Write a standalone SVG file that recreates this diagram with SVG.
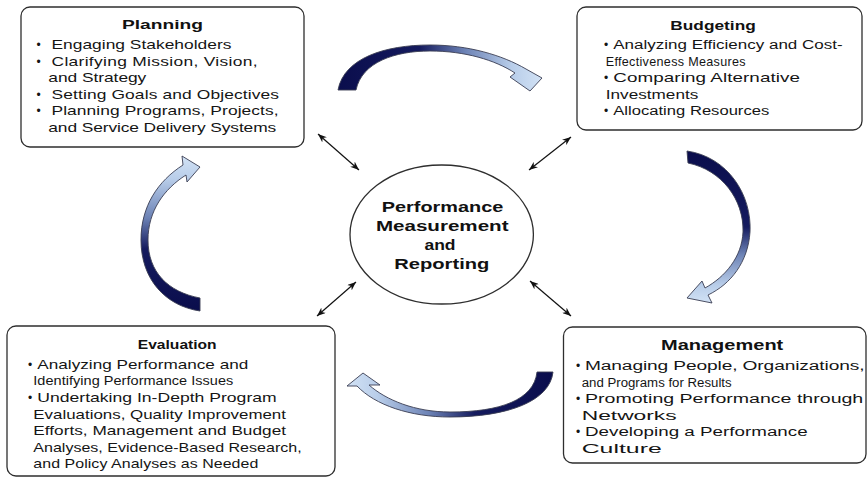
<svg xmlns="http://www.w3.org/2000/svg" width="868" height="477" viewBox="0 0 868 477">
<style>
.box{fill:#fff;stroke:#2e2e2e;stroke-width:1.3}
.t{font-family:"Liberation Sans",Arial,sans-serif;font-size:12px;fill:#151515}
.tm{font-family:"Liberation Sans",Arial,sans-serif;font-size:13.5px;fill:#151515}
.b{font-family:"Liberation Sans",Arial,sans-serif;font-size:12px;fill:#151515}
.h{font-family:"Liberation Sans",Arial,sans-serif;font-size:13px;font-weight:bold;fill:#111}
.hm{font-family:"Liberation Sans",Arial,sans-serif;font-size:14px;font-weight:bold;fill:#111}
.c{font-family:"Liberation Sans",Arial,sans-serif;font-size:14px;font-weight:bold;fill:#111;text-anchor:middle}
.link{stroke:#111;stroke-width:1.2;fill:none}
.cyc{stroke:#3a3d52;stroke-width:0.9}
</style>
<defs>
<marker id="ah" viewBox="0 0 10 8" refX="10" refY="4" markerWidth="9" markerHeight="7" markerUnits="userSpaceOnUse" orient="auto-start-reverse">
<path d="M0,0 L10,4 L0,8 L3,4 z" fill="#111"/>
</marker>
<linearGradient id="gTop" gradientUnits="userSpaceOnUse" x1="338" y1="0" x2="542" y2="0">
<stop offset="0" stop-color="#0a0d4c"/><stop offset="0.4" stop-color="#151b5e"/><stop offset="0.62" stop-color="#6c82b5"/><stop offset="0.85" stop-color="#b8cde9"/><stop offset="1" stop-color="#d2e2f5"/>
</linearGradient>
<linearGradient id="gRight" gradientUnits="userSpaceOnUse" x1="0" y1="151" x2="0" y2="303">
<stop offset="0" stop-color="#0a0d4c"/><stop offset="0.5" stop-color="#151b5e"/><stop offset="0.68" stop-color="#6c82b5"/><stop offset="0.88" stop-color="#b8cde9"/><stop offset="1" stop-color="#d2e2f5"/>
</linearGradient>
<linearGradient id="gLeft" gradientUnits="userSpaceOnUse" x1="0" y1="311" x2="0" y2="156">
<stop offset="0" stop-color="#0a0d4c"/><stop offset="0.4" stop-color="#151b5e"/><stop offset="0.6" stop-color="#6c82b5"/><stop offset="0.85" stop-color="#b8cde9"/><stop offset="1" stop-color="#d2e2f5"/>
</linearGradient>
<linearGradient id="gBottom" gradientUnits="userSpaceOnUse" x1="553" y1="0" x2="347" y2="0">
<stop offset="0" stop-color="#0a0d4c"/><stop offset="0.38" stop-color="#151b5e"/><stop offset="0.6" stop-color="#6c82b5"/><stop offset="0.85" stop-color="#b8cde9"/><stop offset="1" stop-color="#d2e2f5"/>
</linearGradient>
</defs>
<rect width="868" height="477" fill="#fff"/>

<g id="connectors">
<line class="link" x1="318" y1="134" x2="359" y2="170" marker-start="url(#ah)" marker-end="url(#ah)"/>
<line class="link" x1="571" y1="137" x2="529" y2="170" marker-start="url(#ah)" marker-end="url(#ah)"/>
<line class="link" x1="356" y1="282" x2="317" y2="316" marker-start="url(#ah)" marker-end="url(#ah)"/>
<line class="link" x1="530" y1="281" x2="571" y2="316" marker-start="url(#ah)" marker-end="url(#ah)"/>
<g id="cycle-arrows">
<path class="cyc" fill="url(#gTop)" d="M338,90 C344,58 385,45 430,45 C468,45 502,55 526,69 L542,78 L530,91 L510,77 L515,73 C495,60 465,51 430,51 C395,51 362,62 356,90 Z"/>
<path class="cyc" fill="url(#gRight)" d="M687,151 C728,157 752,195 750,232 C748,262 731,284 708,295 L712,303 L687,298 L702,281 L705,288 C725,277 742,257 743,232 C744,200 722,170 688,163 Z"/>
<path class="cyc" fill="url(#gLeft)" d="M200,311 C166,306 141,280 141,240 C141,206 158,181 183,165 L182,156 L200,167 L187,182 L186,175 C164,189 148,211 148,240 C148,272 168,292 200,298 Z"/>
<path class="cyc" fill="url(#gBottom)" d="M537,372 L553,372 C550,401 508,417 450,417 C410,417 375,405 357,386 L347,386 L363,373 L380,385 L369,385 C386,400 415,412 450,412 C500,412 534,400 537,372 Z"/>
</g>
</g>

<g id="planning">
<rect class="box" x="21" y="7" width="283" height="140" rx="9"/>
<text class="h" transform="matrix(1.475 0 0 1 122 29)" textLength="54.9">Planning</text>
<text class="b" x="36.5" y="49">•</text>
<text class="t" transform="matrix(1.45 0 0 1 51.5 49)" textLength="124.1">Engaging Stakeholders</text>
<text class="b" x="36.5" y="65.5">•</text>
<text class="t" transform="matrix(1.45 0 0 1 51.5 65.5)" textLength="142.1">Clarifying Mission, Vision,</text>
<text class="t" transform="matrix(1.45 0 0 1 48.3 82)" textLength="67.6">and Strategy</text>
<text class="b" x="36.5" y="98.5">•</text>
<text class="t" transform="matrix(1.45 0 0 1 51.5 98.5)" textLength="156.9">Setting Goals and Objectives</text>
<text class="b" x="36.5" y="115">•</text>
<text class="t" transform="matrix(1.45 0 0 1 51.5 115)" textLength="156.6">Planning Programs, Projects,</text>
<text class="t" transform="matrix(1.45 0 0 1 48.3 131.5)" textLength="157.2">and Service Delivery Systems</text>
</g>

<g id="budgeting">
<rect class="box" x="577" y="7" width="285" height="123" rx="9"/>
<text class="h" transform="matrix(1.33 0 0 1 670.3 29.5)" textLength="64.3">Budgeting</text>
<text class="b" x="604" y="49">•</text>
<text class="t" transform="matrix(1.415 0 0 1 613.3 49)" textLength="162.1">Analyzing Efficiency and Cost-</text>
<text class="t" transform="matrix(1.05 0 0 1 605.7 65.5)" textLength="133.3">Effectiveness Measures</text>
<text class="b" x="604" y="82">•</text>
<text class="t" transform="matrix(1.57 0 0 1 613.3 82)" textLength="118.9">Comparing Alternative</text>
<text class="t" transform="matrix(1.43 0 0 1 605.7 98.5)" textLength="64.8">Investments</text>
<text class="b" x="604" y="115">•</text>
<text class="t" transform="matrix(1.38 0 0 1 613.3 115)" textLength="113">Allocating Resources</text>
</g>

<g id="evaluation">
<rect class="box" x="7" y="326" width="328" height="150" rx="9"/>
<text class="h" transform="matrix(1.2 0 0 1 137.8 349)" textLength="65.7">Evaluation</text>
<text class="b" x="28" y="368.7">•</text>
<text class="t" transform="matrix(1.43 0 0 1 37.3 368.7)" textLength="147.6">Analyzing Performance and</text>
<text class="t" transform="matrix(1.21 0 0 1 33.3 385.3)" textLength="165.3">Identifying Performance Issues</text>
<text class="b" x="28" y="402">•</text>
<text class="t" transform="matrix(1.465 0 0 1 37.3 402)" textLength="163.4">Undertaking In-Depth Program</text>
<text class="t" transform="matrix(1.41 0 0 1 33.3 418.5)" textLength="179.2">Evaluations, Quality Improvement</text>
<text class="t" transform="matrix(1.435 0 0 1 33.3 435)" textLength="176.1">Efforts, Management and Budget</text>
<text class="t" transform="matrix(1.337 0 0 1 33.3 451.5)" textLength="200.7">Analyses, Evidence-Based Research,</text>
<text class="t" transform="matrix(1.33 0 0 1 33.3 468)" textLength="169.2">and Policy Analyses as Needed</text>
</g>

<g id="management">
<rect class="box" x="563.5" y="327" width="302.5" height="136" rx="9"/>
<text class="hm" transform="matrix(1.43 0 0 1 661 350)" textLength="85.5">Management</text>
<text class="b" x="576" y="370">•</text>
<text class="tm" transform="matrix(1.42 0 0 1 585 370)" textLength="196.8">Managing People, Organizations,</text>
<text class="tm" transform="matrix(0.98 0 0 1 581.7 386.5)" textLength="153">and Programs for Results</text>
<text class="b" x="576" y="403">•</text>
<text class="tm" transform="matrix(1.45 0 0 1 585 403)" textLength="191.9">Promoting Performance through</text>
<text class="tm" transform="matrix(1.69 0 0 1 581.7 419.5)" textLength="56.2">Networks</text>
<text class="b" x="576" y="436">•</text>
<text class="tm" transform="matrix(1.39 0 0 1 585 436)" textLength="160.2">Developing a Performance</text>
<text class="tm" transform="matrix(1.84 0 0 1 581.7 452.5)" textLength="43.5">Culture</text>
</g>

<g id="center">
<ellipse cx="441.7" cy="234.5" rx="91.7" ry="69.5" fill="#fff" stroke="#2e2e2e" stroke-width="1.3"/>
<text class="c" transform="matrix(1.42 0 0 1 442.5 211.5)">Performance</text>
<text class="c" transform="matrix(1.47 0 0 1 442.2 230.5)">Measurement</text>
<text class="c" transform="matrix(1.25 0 0 1 440 249.5)">and</text>
<text class="c" transform="matrix(1.44 0 0 1 441.8 268.5)">Reporting</text>
</g>
</svg>
